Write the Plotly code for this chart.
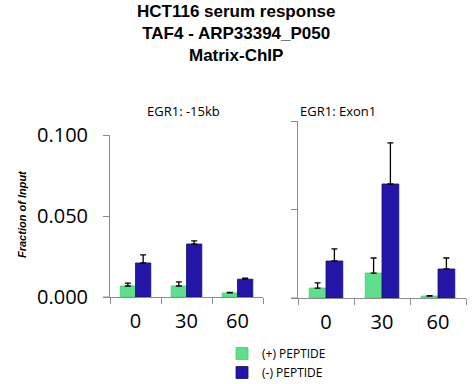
import plotly.graph_objects as go

categories = ["0", "30", "60"]
# EGR1: -15kb
left_plus = [0.0068, 0.0068, 0.0025]
left_plus_err = [0.0086, 0.0093, 0.0028]
left_minus = [0.021, 0.0327, 0.011]
left_minus_err = [0.026, 0.0346, 0.0117]
# EGR1: Exon1
right_plus = [0.0056, 0.0141, 0.0011]
right_plus_err = [0.0085, 0.0226, 0.0013]
right_minus = [0.0209, 0.0644, 0.0164]
right_minus_err = [0.0277, 0.0876, 0.0226]

y_tickvals = [0, 0.05, 0.1]
y_ticktext = ["0.000", "0.050", "0.100"]

GREEN = "#5fdf8c"
BLUE = "#2316a6"
W, H = 473, 384

def err(tops, vals):
    return dict(type="data", symmetric=False, array=[t - v for t, v in zip(tops, vals)],
                arrayminus=[0] * len(vals), color="black", thickness=1.3, width=3)

fig = go.Figure()
fig.add_bar(x=categories, y=left_plus, name="(+) PEPTIDE", marker=dict(color=GREEN, line=dict(color="#4cc878", width=0.8)),
            error_y=err(left_plus_err, left_plus), xaxis="x", yaxis="y", legendgroup="p")
fig.add_bar(x=categories, y=left_minus, name="(-) PEPTIDE", marker=dict(color=BLUE, line=dict(color="#150d70", width=0.8)),
            error_y=err(left_minus_err, left_minus), xaxis="x", yaxis="y", legendgroup="m")
fig.add_bar(x=categories, y=right_plus, name="(+) PEPTIDE", marker=dict(color=GREEN, line=dict(color="#4cc878", width=0.8)),
            error_y=err(right_plus_err, right_plus), xaxis="x2", yaxis="y2", showlegend=False, legendgroup="p")
fig.add_bar(x=categories, y=right_minus, name="(-) PEPTIDE", marker=dict(color=BLUE, line=dict(color="#150d70", width=0.8)),
            error_y=err(right_minus_err, right_minus), xaxis="x2", yaxis="y2", showlegend=False, legendgroup="m")

def px(x):
    return x / W

def py(y):
    return 1 - y / H

axis_col = "#8c8c8c"
xcommon = dict(type="category", showline=True, linecolor=axis_col, linewidth=1, ticks="outside",
               tickson="boundaries", ticklen=6, tickcolor=axis_col, showgrid=False, ticklabelstandoff=6,
               tickfont=dict(family="Open Sans", size=20, color="black"))
ycommon = dict(range=[0, 0.1], showline=True, linecolor=axis_col, linewidth=1, ticks="outside",
               ticklen=6, tickcolor=axis_col, showgrid=False, zeroline=False,
               tickvals=y_tickvals, ticktext=y_ticktext)

fig.update_layout(
    width=W, height=H, margin=dict(l=0, r=0, t=0, b=0, autoexpand=False),
    plot_bgcolor="white", paper_bgcolor="white",
    barmode="group", bargap=0.4, bargroupgap=0,
    xaxis=dict(domain=[px(110), px(263)], anchor="y", **xcommon),
    yaxis=dict(domain=[py(297), py(135)], anchor="x", ticklabelstandoff=11,
               tickfont=dict(family="Open Sans", size=20, color="black"), **ycommon),
    xaxis2=dict(domain=[px(298), px(466)], anchor="y2", **xcommon),
    yaxis2=dict(domain=[py(298), py(121)], anchor="x2", showticklabels=False, **ycommon),
    showlegend=True,
    legend=dict(x=px(222), y=py(387), xanchor="left", yanchor="bottom", bgcolor="rgba(0,0,0,0)",
                font=dict(family="Open Sans", size=12, color="black"), tracegroupgap=0,
                itemwidth=30),
    annotations=[
        dict(text="<b>HCT116 serum response<br>TAF4 - ARP33394_P050<br>Matrix-ChIP</b>",
             x=px(236), xanchor="center", y=py(0), yanchor="top", xref="paper", yref="paper",
             showarrow=False, font=dict(family="Liberation Sans", size=17, color="black")),
        dict(text="EGR1: -15kb", x=px(183), y=py(100), xref="paper", yref="paper", showarrow=False,
             font=dict(family="Open Sans", size=13, color="black")),
        dict(text="EGR1: Exon1", x=px(378), y=py(100), xref="paper", yref="paper", showarrow=False,
             font=dict(family="Open Sans", size=13, color="black")),
        dict(text="<b><i>Fraction of Input</i></b>", x=px(14), y=py(214), xref="paper", yref="paper",
             showarrow=False, textangle=-90,
             font=dict(family="Liberation Sans", size=11, color="black")),
    ],
    shapes=[
        dict(type="line", xref="paper", yref="paper", x0=px(103), x1=px(110), y0=py(297), y1=py(297),
             line=dict(color=axis_col, width=1)),
        dict(type="line", xref="paper", yref="paper", x0=px(291), x1=px(298), y0=py(298), y1=py(298),
             line=dict(color=axis_col, width=1)),
    ],
)

fig.write_html("out.html", config={"displayModeBar": False},
               post_script="document.body.style.margin='0';document.body.style.overflow='hidden';")
